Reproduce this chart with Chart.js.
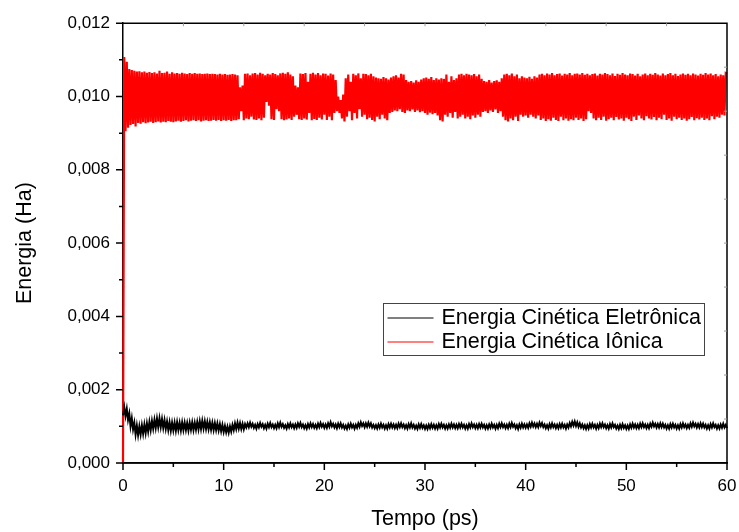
<!DOCTYPE html>
<html>
<head>
<meta charset="utf-8">
<script src="https://cdn.jsdelivr.net/npm/chart.js@4.4.1/dist/chart.umd.min.js"></script>
<style>
  html, body { margin: 0; padding: 0; background: #fff; }
  #grafico { display: block; }
</style>
</head>
<body>
<canvas id="grafico" width="739" height="532"></canvas>
<script>
// time step between samples (ps)
const tempoPasso = 0.125

const serieNomes = ["Energia Cinética Eletrônica", "Energia Cinética Iônica"]
const serieCores = ["#000000", "#ff0000"]

// Energia Cinética Iônica (Ha), one line per ps
const energiaIonica = [0,
  0.01108, 0.00905, 0.01095, 0.00915, 0.01075, 0.00922, 0.01072, 0.00925,
  0.01070, 0.00918, 0.01068, 0.00928, 0.01069, 0.00926, 0.01066, 0.00930,
  0.01068, 0.00927, 0.01065, 0.00929, 0.01067, 0.00931, 0.01064, 0.00928,
  0.01066, 0.00930, 0.01063, 0.00932, 0.01070, 0.00929, 0.01064, 0.00931,
  0.01065, 0.00930, 0.01068, 0.00933, 0.01062, 0.00931, 0.01066, 0.00930,
  0.01063, 0.00932, 0.01064, 0.00934, 0.01062, 0.00931, 0.01065, 0.00933,
  0.01063, 0.00935, 0.01061, 0.00932, 0.01064, 0.00934, 0.01062, 0.00935,
  0.01064, 0.00933, 0.01062, 0.00935, 0.01063, 0.00932, 0.01061, 0.00934,
  0.01062, 0.00935, 0.01063, 0.00933, 0.01061, 0.00934, 0.01062, 0.00936,
  0.01061, 0.00934, 0.01060, 0.00936, 0.01062, 0.00933, 0.01060, 0.00935,
  0.01061, 0.00934, 0.01059, 0.00936, 0.01060, 0.00933, 0.01061, 0.00935,
  0.01060, 0.00935, 0.01058, 0.00938, 0.01025, 0.00960, 0.01030, 0.00935,
  0.01062, 0.00940, 0.01063, 0.00938, 0.01058, 0.00945, 0.01063, 0.00937,
  0.01064, 0.00936, 0.01060, 0.00940, 0.01065, 0.00935, 0.01062, 0.00942,
  0.01058, 0.00985, 0.01062, 0.00975, 0.01060, 0.00938, 0.01064, 0.00936,
  0.01061, 0.00965, 0.01058, 0.00960, 0.01063, 0.00938, 0.01065, 0.00935,
  0.01062, 0.00937, 0.01066, 0.00940, 0.01060, 0.00936, 0.01055, 0.00945,
  0.01030, 0.00950, 0.01025, 0.00938, 0.01063, 0.00936, 0.01061, 0.00940,
  0.01064, 0.00937, 0.01040, 0.00955, 0.01062, 0.00935, 0.01065, 0.00939,
  0.01060, 0.00936, 0.01064, 0.00942, 0.01058, 0.00937, 0.01063, 0.00950,
  0.01062, 0.00936, 0.01057, 0.00945, 0.01063, 0.00935, 0.01060, 0.00955,
  0.01045, 0.00960, 0.01000, 0.00955, 0.00990, 0.00940, 0.01005, 0.00932,
  0.01050, 0.00945, 0.01060, 0.00960, 0.01040, 0.00935, 0.01062, 0.00955,
  0.01058, 0.00940, 0.01063, 0.00965, 0.01050, 0.00945, 0.01062, 0.00950,
  0.01061, 0.00938, 0.01058, 0.00942, 0.01062, 0.00936, 0.01055, 0.00932,
  0.01052, 0.00945, 0.01050, 0.00938, 0.01048, 0.00950, 0.01053, 0.00940,
  0.01050, 0.00935, 0.01046, 0.00955, 0.01052, 0.00958, 0.01055, 0.00962,
  0.01058, 0.00960, 0.01052, 0.00965, 0.01062, 0.00958, 0.01060, 0.00955,
  0.01045, 0.00962, 0.01040, 0.00960, 0.01042, 0.00965, 0.01038, 0.00958,
  0.01044, 0.00962, 0.01040, 0.00957, 0.01046, 0.00960, 0.01050, 0.00955,
  0.01052, 0.00950, 0.01048, 0.00956, 0.01053, 0.00952, 0.01045, 0.00955,
  0.01050, 0.00948, 0.01046, 0.00935, 0.01050, 0.00932, 0.01048, 0.00950,
  0.01060, 0.00945, 0.01040, 0.00955, 0.01055, 0.00942, 0.01045, 0.00958,
  0.01050, 0.00940, 0.01060, 0.00945, 0.01062, 0.00950, 0.01058, 0.00940,
  0.01062, 0.00945, 0.01060, 0.00938, 0.01058, 0.00948, 0.01061, 0.00942,
  0.01055, 0.00950, 0.01060, 0.00945, 0.01048, 0.00958, 0.01042, 0.00960,
  0.01040, 0.00955, 0.01045, 0.00962, 0.01038, 0.00958, 0.01042, 0.00965,
  0.01044, 0.00955, 0.01040, 0.00960, 0.01050, 0.00945, 0.01060, 0.00935,
  0.01062, 0.00932, 0.01058, 0.00940, 0.01063, 0.00935, 0.01055, 0.00945,
  0.01060, 0.00933, 0.01050, 0.00950, 0.01055, 0.00945, 0.01052, 0.00948,
  0.01050, 0.00942, 0.01054, 0.00950, 0.01048, 0.00945, 0.01055, 0.00940,
  0.01052, 0.00948, 0.01060, 0.00936, 0.01062, 0.00940, 0.01058, 0.00933,
  0.01063, 0.00938, 0.01060, 0.00934, 0.01064, 0.00942, 0.01058, 0.00936,
  0.01061, 0.00933, 0.01063, 0.00945, 0.01057, 0.00935, 0.01062, 0.00940,
  0.01060, 0.00934, 0.01064, 0.00938, 0.01058, 0.00935, 0.01062, 0.00942,
  0.01063, 0.00936, 0.01060, 0.00940, 0.01064, 0.00933, 0.01059, 0.00938,
  0.01062, 0.00960, 0.01058, 0.00955, 0.01061, 0.00940, 0.01063, 0.00935,
  0.01057, 0.00942, 0.01062, 0.00936, 0.01060, 0.00945, 0.01064, 0.00934,
  0.01061, 0.00938, 0.01058, 0.00942, 0.01063, 0.00935, 0.01056, 0.00944,
  0.01062, 0.00937, 0.01059, 0.00940, 0.01064, 0.00934, 0.01060, 0.00942,
  0.01058, 0.00938, 0.01063, 0.00933, 0.01061, 0.00945, 0.01057, 0.00936,
  0.01062, 0.00948, 0.01055, 0.00940, 0.01060, 0.00935, 0.01063, 0.00946,
  0.01058, 0.00940, 0.01062, 0.00937, 0.01059, 0.00944, 0.01064, 0.00935,
  0.01060, 0.00942, 0.01057, 0.00938, 0.01063, 0.00950, 0.01058, 0.00936,
  0.01061, 0.00940, 0.01064, 0.00934, 0.01058, 0.00945, 0.01062, 0.00938,
  0.01056, 0.00942, 0.01060, 0.00936, 0.01063, 0.00940, 0.01059, 0.00934,
  0.01062, 0.00938, 0.01058, 0.00944, 0.01063, 0.00935, 0.01060, 0.00941,
  0.01057, 0.00937, 0.01062, 0.00942, 0.01059, 0.00936, 0.01064, 0.00940,
  0.01060, 0.00935, 0.01063, 0.00946, 0.01058, 0.00938, 0.01061, 0.00945,
  0.01055, 0.00942, 0.01060, 0.00950, 0.01058, 0.00948, 0.01064, 0.01062
]

// Energia Cinética Eletrônica (Ha), one line per ps
const energiaEletronica = [0.00130,
  0.00152, 0.00128, 0.00148, 0.00118, 0.00135, 0.00100, 0.00122, 0.00092,
  0.00110, 0.00078, 0.00102, 0.00076, 0.00100, 0.00078, 0.00103, 0.00080,
  0.00105, 0.00082, 0.00108, 0.00086, 0.00112, 0.00090, 0.00115, 0.00094,
  0.00118, 0.00096, 0.00121, 0.00098, 0.00122, 0.00098, 0.00120, 0.00096,
  0.00117, 0.00093, 0.00113, 0.00090, 0.00111, 0.00088, 0.00110, 0.00089,
  0.00110, 0.00088, 0.00111, 0.00090, 0.00110, 0.00089, 0.00111, 0.00090,
  0.00110, 0.00090, 0.00109, 0.00089, 0.00110, 0.00091, 0.00111, 0.00090,
  0.00110, 0.00091, 0.00112, 0.00092, 0.00114, 0.00093, 0.00115, 0.00094,
  0.00114, 0.00093, 0.00112, 0.00092, 0.00111, 0.00091, 0.00110, 0.00090,
  0.00109, 0.00090, 0.00108, 0.00089, 0.00106, 0.00087, 0.00104, 0.00085,
  0.00101, 0.00084, 0.00099, 0.00083, 0.00100, 0.00086, 0.00104, 0.00090,
  0.00108, 0.00093, 0.00110, 0.00094, 0.00109, 0.00093, 0.00107, 0.00092,
  0.00106, 0.00097, 0.00108, 0.00098, 0.00110, 0.00099, 0.00107, 0.00096,
  0.00104, 0.00094, 0.00106, 0.00097, 0.00109, 0.00099, 0.00106, 0.00095,
  0.00104, 0.00094, 0.00107, 0.00098, 0.00109, 0.00098, 0.00105, 0.00095,
  0.00104, 0.00095, 0.00108, 0.00098, 0.00110, 0.00099, 0.00106, 0.00096,
  0.00103, 0.00094, 0.00106, 0.00097, 0.00108, 0.00098, 0.00105, 0.00095,
  0.00105, 0.00096, 0.00108, 0.00099, 0.00109, 0.00098, 0.00105, 0.00095,
  0.00103, 0.00094, 0.00106, 0.00097, 0.00108, 0.00098, 0.00106, 0.00096,
  0.00104, 0.00095, 0.00107, 0.00098, 0.00109, 0.00099, 0.00106, 0.00096,
  0.00105, 0.00096, 0.00108, 0.00099, 0.00111, 0.00100, 0.00107, 0.00097,
  0.00105, 0.00095, 0.00107, 0.00098, 0.00108, 0.00097, 0.00104, 0.00094,
  0.00102, 0.00093, 0.00105, 0.00096, 0.00107, 0.00097, 0.00104, 0.00094,
  0.00104, 0.00096, 0.00108, 0.00099, 0.00111, 0.00101, 0.00108, 0.00098,
  0.00108, 0.00099, 0.00110, 0.00100, 0.00108, 0.00097, 0.00104, 0.00095,
  0.00103, 0.00094, 0.00105, 0.00096, 0.00107, 0.00097, 0.00104, 0.00094,
  0.00103, 0.00094, 0.00106, 0.00097, 0.00107, 0.00097, 0.00105, 0.00095,
  0.00104, 0.00095, 0.00107, 0.00098, 0.00108, 0.00098, 0.00105, 0.00095,
  0.00103, 0.00094, 0.00106, 0.00097, 0.00108, 0.00097, 0.00104, 0.00094,
  0.00102, 0.00093, 0.00105, 0.00096, 0.00106, 0.00096, 0.00103, 0.00093,
  0.00102, 0.00093, 0.00104, 0.00095, 0.00106, 0.00096, 0.00104, 0.00094,
  0.00103, 0.00094, 0.00106, 0.00097, 0.00107, 0.00097, 0.00104, 0.00094,
  0.00103, 0.00094, 0.00105, 0.00096, 0.00107, 0.00097, 0.00105, 0.00095,
  0.00104, 0.00095, 0.00106, 0.00097, 0.00107, 0.00097, 0.00104, 0.00094,
  0.00103, 0.00094, 0.00106, 0.00097, 0.00108, 0.00098, 0.00105, 0.00095,
  0.00104, 0.00095, 0.00106, 0.00097, 0.00107, 0.00097, 0.00104, 0.00094,
  0.00103, 0.00094, 0.00105, 0.00096, 0.00107, 0.00097, 0.00104, 0.00094,
  0.00104, 0.00095, 0.00107, 0.00098, 0.00108, 0.00098, 0.00105, 0.00095,
  0.00104, 0.00095, 0.00107, 0.00098, 0.00109, 0.00099, 0.00105, 0.00095,
  0.00103, 0.00093, 0.00105, 0.00096, 0.00107, 0.00097, 0.00105, 0.00096,
  0.00105, 0.00096, 0.00108, 0.00099, 0.00110, 0.00100, 0.00108, 0.00098,
  0.00107, 0.00098, 0.00110, 0.00101, 0.00109, 0.00098, 0.00105, 0.00095,
  0.00103, 0.00094, 0.00106, 0.00097, 0.00108, 0.00098, 0.00105, 0.00095,
  0.00104, 0.00095, 0.00106, 0.00097, 0.00107, 0.00097, 0.00104, 0.00094,
  0.00105, 0.00097, 0.00109, 0.00100, 0.00112, 0.00102, 0.00113, 0.00101,
  0.00111, 0.00099, 0.00108, 0.00097, 0.00105, 0.00095, 0.00103, 0.00093,
  0.00103, 0.00094, 0.00106, 0.00097, 0.00107, 0.00097, 0.00104, 0.00094,
  0.00104, 0.00095, 0.00107, 0.00098, 0.00108, 0.00098, 0.00105, 0.00095,
  0.00103, 0.00094, 0.00106, 0.00097, 0.00108, 0.00098, 0.00104, 0.00094,
  0.00102, 0.00093, 0.00104, 0.00095, 0.00106, 0.00096, 0.00103, 0.00093,
  0.00102, 0.00093, 0.00105, 0.00096, 0.00107, 0.00097, 0.00105, 0.00095,
  0.00104, 0.00095, 0.00107, 0.00098, 0.00108, 0.00098, 0.00105, 0.00095,
  0.00104, 0.00095, 0.00107, 0.00099, 0.00110, 0.00100, 0.00107, 0.00097,
  0.00106, 0.00097, 0.00108, 0.00098, 0.00107, 0.00097, 0.00104, 0.00094,
  0.00103, 0.00094, 0.00106, 0.00097, 0.00107, 0.00097, 0.00104, 0.00094,
  0.00103, 0.00094, 0.00106, 0.00097, 0.00108, 0.00098, 0.00105, 0.00095,
  0.00104, 0.00096, 0.00108, 0.00099, 0.00110, 0.00100, 0.00107, 0.00097,
  0.00106, 0.00097, 0.00108, 0.00098, 0.00107, 0.00097, 0.00104, 0.00094,
  0.00103, 0.00094, 0.00106, 0.00097, 0.00108, 0.00098, 0.00104, 0.00094,
  0.00103, 0.00094, 0.00105, 0.00096, 0.00107, 0.00097, 0.00104, 0.00095
]

// axis ranges and tick steps
const xMin = 0, xMax = 60, xStep = 10, xMinor = 5
const yMin = 0, yMax = 0.012, yStep = 0.002, yMinor = 0.001

const fonte = '"Liberation Sans", Arial, sans-serif'

const pontos = (serie) => serie.map((v, i) => ({ x: i * tempoPasso, y: v }))

const moldura = {
  id: "moldura",
  afterDatasetsDraw(chart) {
    const { ctx, chartArea: a, scales } = chart
    const x = scales.x, y = scales.y
    ctx.save()
    ctx.strokeStyle = "#000"
    ctx.lineWidth = 1.5
    ctx.beginPath()
    ctx.moveTo(a.left, a.bottom)
    ctx.lineTo(a.right, a.bottom)
    ctx.lineTo(a.right, a.top)
    ctx.lineTo(a.left, a.top)
    ctx.stroke()
    // bottom ticks
    ctx.beginPath()
    for (let v = xMin; v <= xMax + 0.001; v += xMinor) {
      const px = x.getPixelForValue(v)
      const len = Math.abs(v % xStep) < 0.001 ? 7 : 4
      ctx.moveTo(px, a.bottom)
      ctx.lineTo(px, a.bottom + len)
    }
    // left ticks
    for (let k = 0; k <= Math.round((yMax - yMin) / yMinor); k++) {
      const py = y.getPixelForValue(yMin + k * yMinor)
      const len = k % 2 === 0 ? 7 : 4
      ctx.moveTo(a.left - len, py)
      ctx.lineTo(a.left, py)
    }
    ctx.stroke()
    // faint inner ticks on top and right
    ctx.strokeStyle = "#9a9a9a"
    ctx.lineWidth = 1
    ctx.beginPath()
    for (let k = 1; k < 10; k++) {
      const px = a.left + (a.right - a.left) * k / 10
      ctx.moveTo(px, a.top)
      ctx.lineTo(px, a.top + 3)
      const py = a.top + (a.bottom - a.top) * k / 10
      ctx.moveTo(a.right, py)
      ctx.lineTo(a.right - 3, py)
    }
    ctx.stroke()
    ctx.restore()
  }
}

const legenda = {
  id: "legenda",
  afterDraw(chart) {
    const { ctx } = chart
    const caixa = { left: 383.5, top: 303.5, right: 704.5, bottom: 355.5 }
    ctx.save()
    ctx.fillStyle = "#fff"
    ctx.fillRect(caixa.left, caixa.top, caixa.right - caixa.left, caixa.bottom - caixa.top)
    ctx.strokeStyle = "#444"
    ctx.lineWidth = 1
    ctx.strokeRect(caixa.left, caixa.top, caixa.right - caixa.left, caixa.bottom - caixa.top)
    ctx.font = "21.5px " + fonte
    ctx.textBaseline = "middle"
    chart.data.datasets.forEach((ds, i) => {
      const cy = caixa.top + 14 + i * 24
      ctx.strokeStyle = ds.borderColor
      ctx.lineWidth = 1
      ctx.beginPath()
      ctx.moveTo(caixa.left + 4, cy + 0.5)
      ctx.lineTo(caixa.left + 50, cy + 0.5)
      ctx.stroke()
      ctx.fillStyle = "#000"
      ctx.fillText(ds.label, caixa.left + 58, cy + 1)
    })
    ctx.restore()
  }
}

const ctx = document.getElementById("grafico").getContext("2d")
const grafico = new Chart(ctx, {
  type: "line",
  data: {
    datasets: [
      {
        label: serieNomes[0],
        data: pontos(energiaEletronica),
        borderColor: serieCores[0],
        borderWidth: 2,
        pointRadius: 0,
        tension: 0,
        clip: 4
      },
      {
        label: serieNomes[1],
        data: pontos(energiaIonica),
        borderColor: serieCores[1],
        borderWidth: 2.2,
        pointRadius: 0,
        tension: 0,
        clip: 4
      }
    ]
  },
  options: {
    responsive: false,
    animation: false,
    devicePixelRatio: 1,
    layout: { padding: { top: 22, right: 12, left: 0, bottom: 0 } },
    plugins: {
      legend: { display: false },
      tooltip: { enabled: false }
    },
    scales: {
      x: {
        type: "linear",
        min: xMin,
        max: xMax,
        afterFit: (s) => { s.height = 69; s.paddingRight = 0 },
        grid: { display: false, drawTicks: false },
        border: { display: true, color: "#000", width: 1.5 },
        ticks: {
          stepSize: xStep,
          autoSkip: false,
          maxRotation: 0,
          padding: 13,
          color: "#000",
          font: { family: fonte, size: 17 },
          callback: (v) => String(v)
        },
        title: {
          display: true,
          text: "Tempo (ps)",
          color: "#000",
          font: { family: fonte, size: 21.5 },
          padding: { top: 0, bottom: 0 }
        }
      },
      y: {
        type: "linear",
        min: yMin,
        max: yMax,
        afterFit: (s) => { s.width = 123 },
        grid: { display: false, drawTicks: false },
        border: { display: true, color: "#000", width: 1.5 },
        ticks: {
          stepSize: yStep,
          autoSkip: false,
          padding: 13,
          color: "#000",
          font: { family: fonte, size: 17 },
          callback: (v) => v.toFixed(3).replace(".", ",")
        },
        title: {
          display: true,
          text: "Energia (Ha)",
          color: "#000",
          font: { family: fonte, size: 21.5 },
          padding: { top: 12, bottom: 0 }
        }
      }
    }
  },
  plugins: [moldura, legenda]
})
</script>
</body>
</html>
